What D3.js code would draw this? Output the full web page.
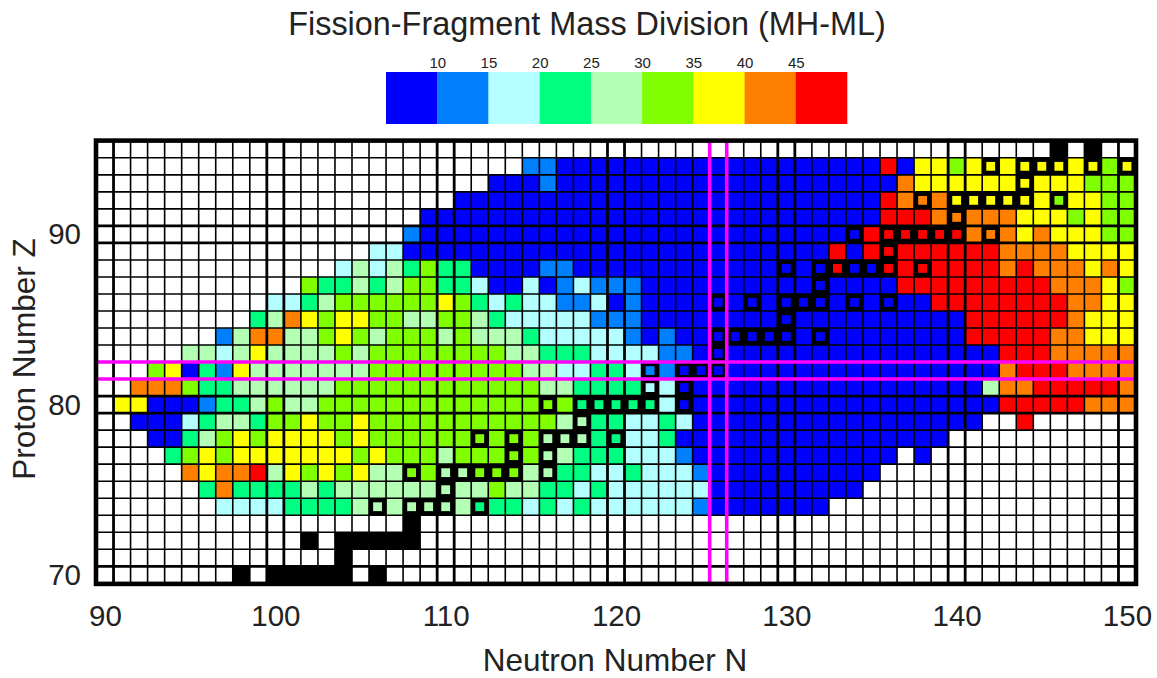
<!DOCTYPE html>
<html>
<head>
<meta charset="utf-8">
<script src="https://cdn.jsdelivr.net/npm/d3@7"></script>
<style>
html,body{margin:0;padding:0;background:#fff;}
svg{display:block;font-family:"Liberation Sans",Arial,sans-serif;}
text{fill:#222;}
</style>
</head>
<body>
<svg id="chart" width="1157" height="678"></svg>
<script>
// Band codes per cell: 0 = no data, K = black, 1..9 = colour band. Groups: N 90-99, 100-109, ... 140-149, 150.
const protonNumbers = d3.range(95, 69, -1);
const neutronStart = 90;
const bandRows = [
"0000000000 0000000000 0000000000 0000000000 0000000000 000000K0K0 0", // Z=95
"0000000000 0000000000 0000022111 1111111111 1111119177 6777777776 7", // 94
"0000000000 0000000000 0001112111 1111111111 1111111877 7777777766 6", // 93
"0000000000 0000000000 0111111111 1111111111 1111119888 7777776776 6", // 92
"0000000000 0000000001 1111111111 1111111111 1111119998 8888777676 6", // 91
"0000000000 0000000021 1111111111 1111111111 1111199999 9888787776 6", // 90
"0000000000 0000003311 1111111111 1111111111 1119199999 9998888777 7", // 89
"0000000000 0000353546 4411112211 1111111111 1119119999 9998988878 7", // 88
"0000000000 0064454566 4431131232 2211111111 1111111999 9999998887 6", // 87
"0000000000 3345666666 7643433223 1211111111 1111111119 9999999887 7", // 86
"0000000004 5876776655 6654333332 2211111111 1111111111 1999999877 7", // 85
"0000000258 8556765666 5655543333 3212111111 1111111111 1999998877 7", // 84
"0000055357 5555656666 6666554443 3332211111 1111111111 1119998888 8", // 83
"0006714275 5555556666 6666655334 4322111111 1111111111 1118999888 8", // 82
"0088864455 5555666666 6666665544 4433111111 1111111111 1158899999 8", // 81
"0771112445 6556666666 6666666644 4443111111 1111111111 1119999988 8", // 80
"0011134554 6676676666 6666666554 4334311111 1111111111 1100900000 0", // 79
"0001145676 7777676666 6666665554 4334111111 1111111111 0000000000 0", // 78
"0000467677 7777767666 5666665544 4333211111 1111111010 0000000000 0", // 77
"0000087889 5767675566 5566655443 3433321111 1111110000 0000000000 0", // 76
"0000004844 4454555555 5556554434 3333331111 1111100000 0000000000 0", // 75
"0000000333 3444455555 5544434343 3333321111 1110000000 0000000000 0", // 74
"0000000000 00000000K0 0000000000 0000000000 0000000000 0000000000 0", // 73
"0000000000 00K0KKKKK0 0000000000 0000000000 0000000000 0000000000 0", // 72
"0000000000 0000K00000 0000000000 0000000000 0000000000 0000000000 0", // 71
"00000000K0 KKKKK0K000 0000000000 0000000000 0000000000 0000000000 0"  // 70
];
// Representative mass division value for each colour band
const bandValues = [null, 8, 12, 17, 22, 27, 32, 37, 42, 47];
const legendThresholds = [10, 15, 20, 25, 30, 35, 40, 45];
const legendColors = ["#0000ff","#0080ff","#b3ffff","#00ff80","#b3ffb3","#80ff00","#ffff00","#ff8000","#ff0000"];
// Cells outlined with a heavy black frame: [Z, [N...]]
const boxedCells = [
[94,[142,144,145,146,148,150]],
[93,[144]],
[92,[138,140,141,142,143,144,146]],
[91,[140]],
[90,[134,136,137,138,139,140,142]],
[89,[136]],
[88,[130,132,133,134,135,136,138]],
[87,[132]],
[86,[126,128,130,131,132,134,136]],
[85,[130]],
[84,[126,127,128,129,130,132]],
[83,[126]],
[82,[122,124,125,126]],
[81,[122,124]],
[80,[116,118,119,120,121,122,124]],
[79,[118]],
[78,[112,114,116,117,118,120]],
[77,[114,116]],
[76,[108,110,111,112,113,114,116]],
[75,[110]],
[74,[106,108,109,110,112]]
];
const magicN = [126];
const magicZ = [82];
const xTicks = [90,100,110,120,130,140,150];
const yTicks = [70,80,90];
const titleText = "Fission-Fragment Mass Division (MH-ML)";
const xTitle = "Neutron Number N";
const yTitle = "Proton Number Z";

const svg = d3.select("#chart");
const x = d3.scaleLinear().domain([89.5,150.5]).range([96.5,1135.5]);
const y = d3.scaleLinear().domain([69.5,95.5]).range([583.3,140.8]);
const color = d3.scaleThreshold().domain(legendThresholds).range(legendColors);

// cells
const cells = [];
bandRows.forEach((row,i)=>{
  row.replace(/ /g,"").split("").forEach((c,j)=>{
    if(c==="0") return;
    cells.push({N:neutronStart+j, Z:protonNumbers[i], v:c==="K"?null:bandValues[+c], black:c==="K"});
  });
});
const plot = svg.append("g");
plot.selectAll("rect.cell").data(cells).join("rect").attr("class","cell")
  .attr("x",d=>x(d.N-0.5)).attr("y",d=>y(d.Z+0.5))
  .attr("width",x(1)-x(0)).attr("height",y(0)-y(1))
  .attr("fill",d=>d.black?"#000":color(d.v));

// grid: heavier lines bracket the tick rows and columns
const xEdges = d3.range(90.5,150.5,1);
const yEdges = d3.range(70.5,95.5,1);
const xHeavy = e => xTicks.some(t=>Math.abs(t-e)===0.5);
const yHeavy = e => yTicks.some(t=>Math.abs(t-e)===0.5);
plot.selectAll("line.gx").data(xEdges).join("line").attr("class","gx")
  .attr("x1",d=>x(d)).attr("x2",d=>x(d)).attr("y1",y.range()[1]).attr("y2",y.range()[0])
  .attr("stroke","#000").attr("stroke-width",d=>xHeavy(d)?2.8:1.6);
plot.selectAll("line.gy").data(yEdges).join("line").attr("class","gy")
  .attr("y1",d=>y(d)).attr("y2",d=>y(d)).attr("x1",x.range()[0]).attr("x2",x.range()[1])
  .attr("stroke","#000").attr("stroke-width",d=>yHeavy(d)?2.8:1.6);

// boxed cells
const boxes = boxedCells.flatMap(([Z,Ns])=>Ns.map(N=>({N,Z})));
plot.selectAll("rect.box").data(boxes).join("rect").attr("class","box")
  .attr("x",d=>x(d.N-0.5)+2).attr("y",d=>y(d.Z+0.5)+2)
  .attr("width",x(1)-x(0)-4).attr("height",y(0)-y(1)-4)
  .attr("fill","none").attr("stroke","#000").attr("stroke-width",4.2);

// magic number lines
const magic = "#ff00ff";
magicN.forEach(n=>[n-0.5,n+0.5].forEach(e=>{
  plot.append("line").attr("x1",x(e)).attr("x2",x(e)).attr("y1",y.range()[1]).attr("y2",y.range()[0])
    .attr("stroke",magic).attr("stroke-width",3.6);
}));
magicZ.forEach(z=>[z-0.5,z+0.5].forEach(e=>{
  plot.append("line").attr("y1",y(e)).attr("y2",y(e)).attr("x1",x.range()[0]).attr("x2",x.range()[1])
    .attr("stroke",magic).attr("stroke-width",3.6);
}));

// frame
svg.append("rect").attr("x",96).attr("y",140.6).attr("width",1040).attr("height",443.3)
  .attr("fill","none").attr("stroke","#000").attr("stroke-width",4.6);

// axes
const axisX = svg.append("g").attr("transform","translate(0,599)")
  .call(d3.axisBottom(x).tickValues(xTicks).tickSize(0).tickPadding(6));
const axisY = svg.append("g").attr("transform","translate(81,0)")
  .call(d3.axisLeft(y).tickValues(yTicks).tickSize(0).tickPadding(0));
[axisX,axisY].forEach(a=>{
  a.select(".domain").remove();
  a.selectAll("text").attr("font-size",29.5).attr("font-family","'Liberation Sans',Arial,sans-serif").style("fill","#222");
});

// titles
svg.append("text").attr("x",587).attr("y",35).attr("text-anchor","middle").attr("font-size",32.4).text(titleText);
svg.append("text").attr("x",615).attr("y",671).attr("text-anchor","middle").attr("font-size",31.5).text(xTitle);
svg.append("text").attr("transform","translate(35,359) rotate(-90)").attr("text-anchor","middle").attr("font-size",31.5).text(yTitle);

// colour bar
const lx = d3.scaleLinear().domain([5,50]).range([386,847]);
const legendEdges = [5,...legendThresholds,50];
svg.append("g").selectAll("rect").data(legendColors).join("rect")
  .attr("x",(d,i)=>lx(legendEdges[i])).attr("y",72)
  .attr("width",(d,i)=>lx(legendEdges[i+1])-lx(legendEdges[i])+0.3).attr("height",52)
  .attr("fill",d=>d);
const axisL = svg.append("g").attr("transform","translate(0,69)")
  .call(d3.axisTop(lx).tickValues(legendThresholds).tickSize(0).tickPadding(1));
axisL.select(".domain").remove();
axisL.selectAll("text").attr("font-size",15).attr("font-family","'Liberation Sans',Arial,sans-serif").style("fill","#222");
</script>
</body>
</html>
